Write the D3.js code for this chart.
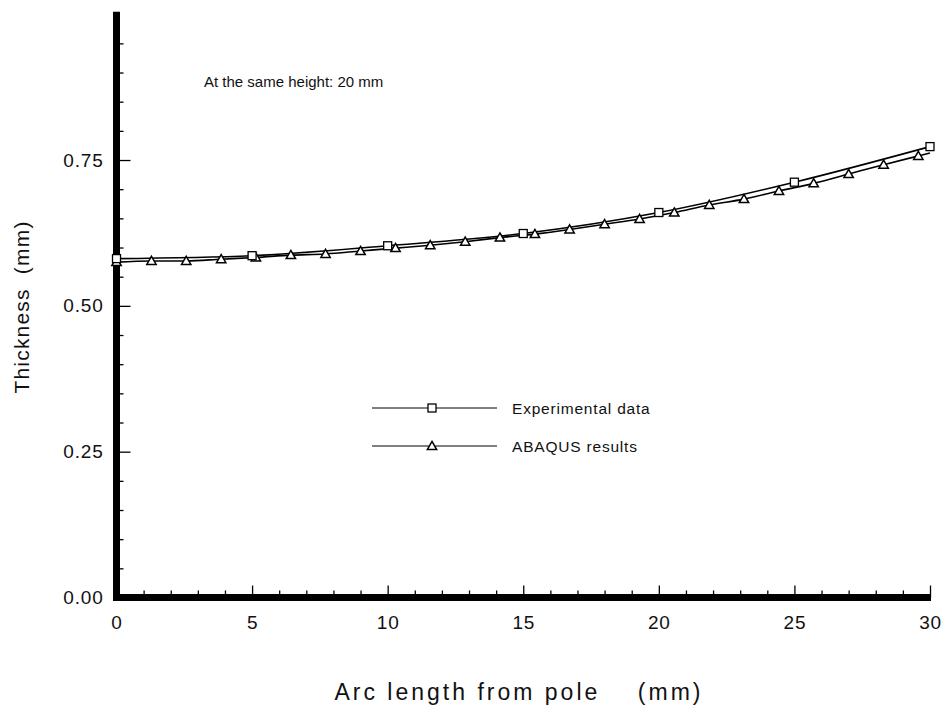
<!DOCTYPE html>
<html>
<head>
<meta charset="utf-8">
<script src="https://cdn.jsdelivr.net/npm/d3@7"></script>
<style>
  html, body { margin: 0; padding: 0; background: #fff; }
  svg { display: block; font-family: "Liberation Sans", Arial, Helvetica, sans-serif; }
</style>
</head>
<body>
<svg id="chart" width="945" height="709"></svg>
<script>
// Measured thickness along the arc (mm)
const expArc = [0, 5, 10, 15, 20, 25, 30];
const expThk = [0.581, 0.586, 0.603, 0.624, 0.660, 0.712, 0.773];

// ABAQUS nodal results; the last node (x = 30) closes the curve without a symbol
const abqArc = [0, 1.29, 2.57, 3.86, 5.14, 6.43, 7.71, 9.00, 10.29, 11.57, 12.86, 14.14,
                15.43, 16.71, 18.00, 19.29, 20.57, 21.86, 23.14, 24.43, 25.71, 27.00,
                28.29, 29.57, 30];
const abqThk = [0.575, 0.577, 0.577, 0.580, 0.583, 0.587, 0.589, 0.594, 0.599, 0.604, 0.610, 0.617,
                0.623, 0.631, 0.640, 0.649, 0.660, 0.673, 0.683, 0.697, 0.710, 0.726,
                0.742, 0.757, 0.762];

const xMajor = [0, 5, 10, 15, 20, 25, 30];
const xMinor = d3.range(0, 31, 1).filter(v => v % 5 !== 0);
const yMajor = [0, 0.25, 0.5, 0.75];
const yMinor = d3.range(1, 20).map(i => i * 0.05).filter(v => Math.abs(v * 4 - Math.round(v * 4)) > 1e-6);

const legendItems = ["Experimental data", "ABAQUS results"];

const svg = d3.select("#chart");
const x = d3.scaleLinear().domain([0, 30]).range([116.5, 930]);
const y = d3.scaleLinear().domain([0, 1]).range([597.5, 14.2]);

const fmtY = d3.format(".2f");
const ink = "#111";

// minor ticks (no labels)
svg.append("g")
  .attr("transform", `translate(0,${y(0)})`)
  .call(d3.axisBottom(x).tickValues(xMinor).tickSize(-7).tickSizeOuter(0).tickFormat(""))
  .call(g => g.select(".domain").remove())
  .call(g => g.selectAll("line").attr("stroke", "#000").attr("stroke-width", 1.3));
svg.append("g")
  .attr("transform", `translate(${x(0)},0)`)
  .call(d3.axisLeft(y).tickValues(yMinor).tickSize(-7).tickSizeOuter(0).tickFormat(""))
  .call(g => g.select(".domain").remove())
  .call(g => g.selectAll("line").attr("stroke", "#000").attr("stroke-width", 1.3));

// major ticks with labels
svg.append("g")
  .attr("transform", `translate(0,${y(0)})`)
  .call(d3.axisBottom(x).tickValues(xMajor).tickSize(-12).tickSizeOuter(0).tickPadding(18).tickFormat(d3.format("d")))
  .call(g => g.select(".domain").remove())
  .call(g => g.selectAll("line").attr("stroke", "#000").attr("stroke-width", 1.3))
  .call(g => g.selectAll("text").attr("fill", ink).attr("font-size", 19).attr("font-family", null).style("letter-spacing", "0.8px"));
svg.append("g")
  .attr("transform", `translate(${x(0)},0)`)
  .call(d3.axisLeft(y).tickValues(yMajor).tickSize(-14).tickSizeOuter(0).tickPadding(13).tickFormat(fmtY))
  .call(g => g.select(".domain").remove())
  .call(g => g.selectAll("line").attr("stroke", "#000").attr("stroke-width", 1.3))
  .call(g => g.selectAll("text").attr("fill", ink).attr("font-size", 19).attr("font-family", null).style("letter-spacing", "0.8px"));

// heavy axis frame lines
svg.append("line")
  .attr("x1", x(0)).attr("x2", x(0))
  .attr("y1", y(0) + 3.5).attr("y2", y(1) - 2.5)
  .attr("stroke", "#000").attr("stroke-width", 7);
svg.append("line")
  .attr("x1", x(0) - 3.5).attr("x2", x(30) + 1)
  .attr("y1", y(0)).attr("y2", y(0))
  .attr("stroke", "#000").attr("stroke-width", 7);

const line = d3.line().x(d => x(d[0])).y(d => y(d[1])).curve(d3.curveMonotoneX);

const expPts = expArc.map((a, i) => [a, expThk[i]]);
const abqPts = abqArc.map((a, i) => [a, abqThk[i]]);

svg.append("path").datum(expPts).attr("d", line)
  .attr("fill", "none").attr("stroke", "#000").attr("stroke-width", 1.6);
svg.append("path").datum(abqPts).attr("d", line)
  .attr("fill", "none").attr("stroke", "#000").attr("stroke-width", 1.6);

const sq = 8;
function square(sel) {
  sel.append("rect").attr("x", -sq / 2).attr("y", -sq / 2).attr("width", sq).attr("height", sq)
    .attr("fill", "#fff").attr("stroke", "#000").attr("stroke-width", 1.3);
}
const tri = d3.symbol().type(d3.symbolTriangle).size(38);
function triangle(sel) {
  sel.append("path").attr("d", tri).attr("transform", "translate(0,0.8)")
    .attr("fill", "#fff").attr("stroke", "#000").attr("stroke-width", 1.5);
}

svg.append("g").selectAll("g").data(abqPts.slice(0, abqPts.length - 1)).join("g")
  .attr("transform", d => `translate(${x(d[0])},${y(d[1])})`)
  .call(triangle);
svg.append("g").selectAll("g").data(expPts).join("g")
  .attr("transform", d => `translate(${x(d[0])},${y(d[1])})`)
  .call(square);

// annotation
svg.append("text").attr("x", 204).attr("y", 87)
  .attr("font-size", 15).attr("fill", ink).style("letter-spacing", "0px")
  .text("At the same height: 20 mm");

// legend
const legY = [408, 446];
const legend = svg.append("g");
legendItems.forEach((name, i) => {
  const g = legend.append("g").attr("transform", `translate(0,${legY[i]})`);
  g.append("line").attr("x1", 372).attr("x2", 497).attr("y1", 0).attr("y2", 0)
    .attr("stroke", "#000").attr("stroke-width", 1);
  const m = g.append("g").attr("transform", "translate(432,0)");
  if (i === 0) square(m); else triangle(m);
  g.append("text").attr("x", 512).attr("y", 5.5).attr("font-size", 15.5).attr("fill", ink)
    .style("letter-spacing", "0.8px").text(name);
});

// axis titles
svg.append("text").attr("x", 519).attr("y", 700).attr("text-anchor", "middle")
  .attr("font-size", 23).attr("fill", ink).style("letter-spacing", "3px")
  .attr("xml:space", "preserve").text("Arc length from pole    (mm)");
svg.append("text").attr("transform", "translate(29,307) rotate(-90)").attr("text-anchor", "middle")
  .attr("font-size", 21).attr("fill", ink).style("letter-spacing", "1.2px")
  .attr("xml:space", "preserve").text("Thickness  (mm)");
</script>
</body>
</html>
